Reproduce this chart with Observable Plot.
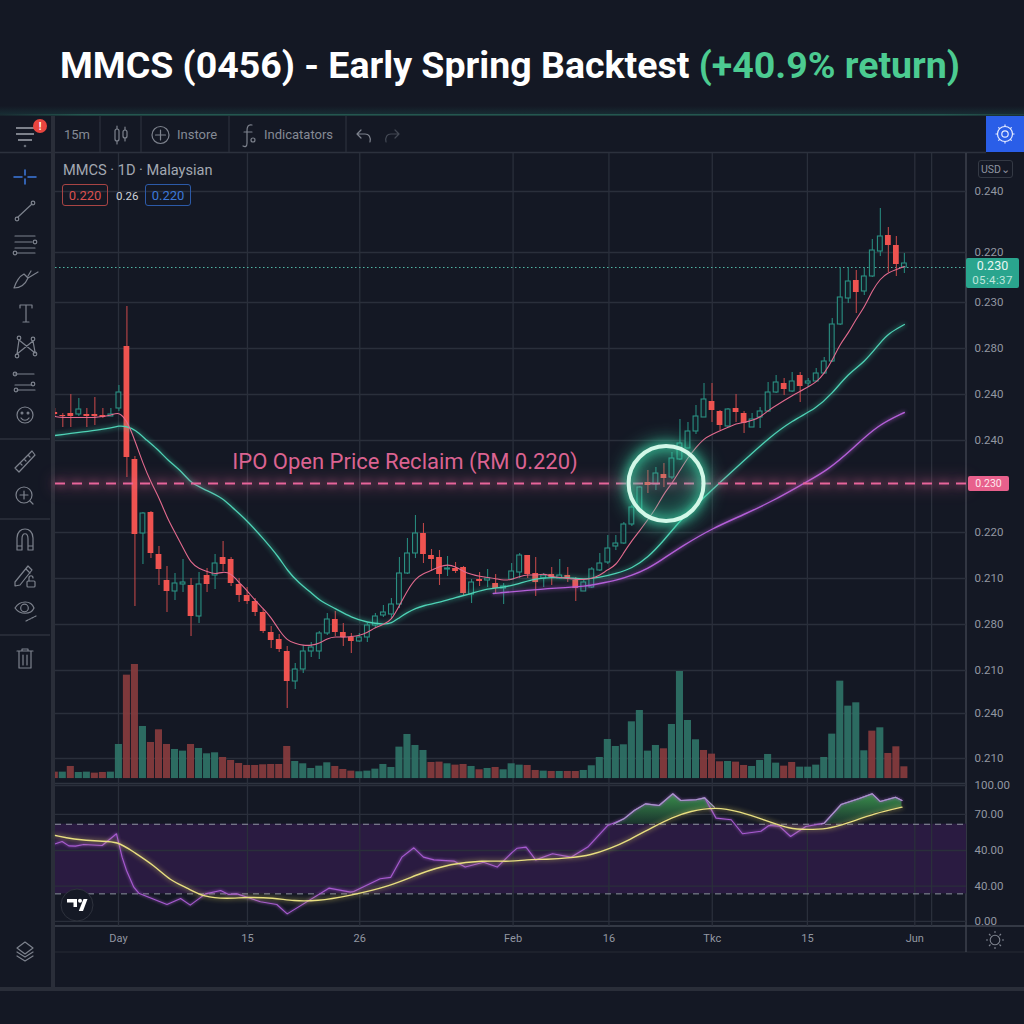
<!DOCTYPE html>
<html><head><meta charset="utf-8">
<script src="https://cdn.jsdelivr.net/npm/d3@7"></script>
<script src="https://cdn.jsdelivr.net/npm/@observablehq/plot@0.6"></script>
<style>
html,body{margin:0;padding:0;background:#141824;}
#page{position:relative;width:1024px;height:1024px;overflow:hidden;background:#141824;font-family:Roboto,sans-serif;}
#page>svg,#page>div{position:absolute;}
.tag{display:flex;align-items:center;justify-content:center;box-sizing:border-box;}
</style></head><body><div id="page"></div>
<script>
// ---------- values (price points; tick labels below are as printed) ----------
const high =[392,387,406,402,392,403,392,392,415,494,344,288,289,254,234,227,241,222,228,232,246,259,243,222,213,202,191,174,166,154,137,155,158,169,187,189,177,167,167,177,187,195,202,243,262,285,277,251,250,244,238,234,221,228,231,226,217,237,247,245,243,227,233,241,233,223,220,233,247,265,265,278,295,314,330,333,337,348,381,378,395,417,417,390,392,406,389,387,393,418,425,422,428,428,422,432,443,482,533,533,530,533,561,592,573,564,547];
const low  =[384,373,373,384,373,375,382,384,389,323,194,236,242,215,188,200,208,164,177,208,211,229,214,198,196,184,167,152,148,92,111,127,143,141,165,164,154,147,158,158,172,183,182,192,226,242,237,229,215,224,227,205,197,214,213,207,196,220,222,222,204,213,215,221,218,199,209,212,229,236,250,256,274,288,307,310,313,321,340,352,366,383,378,370,373,378,367,373,372,388,407,405,408,398,413,418,426,438,475,497,487,505,523,544,528,524,527];
const open =[388,385,387,386,386,386,385,384,392,454,341,267,288,246,220,209,216,215,184,225,225,243,241,216,205,199,188,168,161,149,119,131,149,149,167,181,168,163,159,163,175,185,186,196,227,247,267,245,243,231,232,233,206,221,220,217,212,221,228,245,227,222,226,222,225,220,209,213,230,238,254,257,276,290,318,316,326,323,341,352,369,383,399,389,374,392,387,373,383,389,408,417,409,425,417,419,427,439,476,502,520,509,524,549,565,555,533];
const close=[386,384,384,391,384,384,383,386,408,343,266,287,247,231,209,217,218,184,216,216,237,236,217,205,199,188,169,160,151,119,131,149,153,167,181,168,163,159,163,175,184,188,196,227,247,267,246,241,226,232,229,207,218,219,222,212,214,229,245,226,218,225,223,225,222,212,218,231,237,252,257,276,293,313,315,327,322,342,357,369,384,401,390,375,391,388,377,381,389,408,418,411,419,414,419,427,439,476,503,519,508,524,550,564,555,536,537];
const volume=[20,20,37,19,20,17,19,20,103,311,343,157,109,147,103,88,83,103,91,75,78,64,55,46,40,40,42,43,43,97,52,45,31,38,48,37,28,23,21,23,29,43,34,95,133,100,85,49,50,45,41,43,37,27,31,34,27,45,41,40,25,23,22,22,22,22,25,39,64,118,97,102,171,205,83,100,90,163,322,175,117,85,74,51,52,50,40,37,55,73,47,38,49,35,35,41,64,134,293,218,228,84,143,153,76,96,36];
const volumeSide="rtrttrrttrrtrrrttrttt"+"rrrrrrrrr"+"ttttt"+"rrr"+"ttttttt"+"ttrrtrrtrtrtttr"+"rtrtrrttttttttttrt"+"ttt"+"rrrtrrttttrrtttttttttrtrr";
const fastEma=[384,383,383,383,383,383,384,385,389,380,360,337,318,303,283,268,253,237,232,229,226,229,227,218,210,200,192,183,170,160,157,155,155,157,162,164,163,164,165,168,173,176,180,195,210,222,227,230,234,236,234,229,226,224,223,222,220,221,224,226,225,227,224,223,222,221,221,222,225,231,235,248,260,270,281,292,307,317,330,343,353,362,366,370,373,377,378,380,383,390,395,400,405,409,414,418,427,440,457,467,482,493,510,522,528,531,534];
const midEmaBar=[0,7,8,9,10,11.5,13,14,16,17,19,21,22,24,26,28,29,30.5,32,33,35,37,39,41,42,43,44,45,46,48,50,52,54,56,58,60,62,64,66,68,70,72,74,76,78,81,83,86,89,92,95,97,99,101,103,104,106];
const midEma   =[365,372,375,374,371,360,350,341,328,317,310,302,294,280,262,243,230,217,208,200,192,183,178,176,177,183,188,192,195,198,203,207,212,213,217,222,223,223,221,223,227,232,243,260,280,303,318,340,362,380,392,407,427,438,458,467,476];
const slowEmaBar=[54.7,60,64,66,68,70,72,74,75.6,78.4,82,86,89.7,93.4,96.4,99.7,102.6,106];
const slowEma   =[207,211,213,214,217,220,225,232,240,255,272,286,300,317,330,353,375,388];
const rsiBar=[0.09,0.92,1.75,2.58,3.62,5.91,7.7,8.4,8.95,9.86,10.48,14,15.7,16.9,18.8,20.7,21.7,22.75,25.66,27.7,29,34.2,36.9,37.3,40.6,41.9,43.3,44.8,46,47.3,49.8,51.2,53.5,55.2,57.1,57.7,58.8,60,62.1,64.4,66.5,69,71,72.3,73.7,75.4,77.1,78.1,80,81.1,82.5,84.4,85.8,88.1,89.1,90.4,91.8,93.7,96,98.1,100.3,102,103,104.9,105.7];
const rsi   =[57.1,58.8,55.6,55.4,56.6,55.9,64.5,47.3,37.5,25.2,20.8,12.5,16.9,12,20.3,22.8,19.9,20.3,14.5,12.5,5.6,24.5,21.6,22.1,31.4,32.4,47.3,54.2,47.3,45.3,44.4,40,43.6,40,51,53.9,54.7,45.3,49.8,47.3,54.7,70.6,75.5,81.6,86.5,85.3,93.9,89,89.5,90.9,76,74.8,64.5,66.4,70.6,70.1,62.5,69.9,72.3,86,90.2,93.9,88.2,91.4,89];
const signalBar=[0.09,2.2,5.7,7.8,9.86,12.4,14.4,16.5,18.6,21.5,24,27.3,29.8,32.7,36.5,41.9,45.7,49.4,53.2,57.1,58.8,61.3,64.4,66.9,69.2,71.7,74.6,77.1,79.2,82.5,85.4,88.7,91.8,93.7,96.4,98.7,102.4,105.7];
const signal   =[63.2,60.5,58.8,59.1,51,41.2,30.1,24.8,17.9,16.7,17.9,17.4,15,15,18.6,26,35.8,42.4,44.9,43.9,45.6,45.6,46.8,48.8,53.4,60,69.4,76.7,81.1,84.3,80.9,74.3,67.9,67.6,67.9,71.8,79.7,84.1];
const overbought=[[69.7,71.5,71.5],[71,71.5,75.5],[72.3,71.5,81.6],[73.7,71.5,86.5],[75.4,72,85.3],[77.1,76.7,93.9],[78.1,78.7,89],[80,81.6,89.5],[81.1,83,90.9],[82.3,84,84]];
const overbought2=[[95.6,71.5,71.5],[96,71.5,72.3],[98.1,72,86],[100.3,75,90.2],[102,79,93.9],[103,80.5,88.2],[104.9,83,91.4],[105.7,84,89]];
const priceTicks =[609,548,498,452,406,360,268,222,176,130,87,42];
const priceLabels=["0.240","0.220","0.230","0.280","0.240","0.240","0.220","0.210","0.280","0.210","0.240","0.210"];
const rsiTicks =[100,78.7,52.2,26,0];
const rsiLabels=["100.00","70.00","40.00","40.00","0.00"];
const timeBars  =[7.95,24.04,38.05,57.18,69.14,82.03,93.9,107.3];
const timeLabels=["Day","15","26","Feb","16","Tkc","15","Jun"];
const extraGridBar=109.4;
const ipoLevel=317, lastPrice=533;
const rsiUpper=71.5, rsiLower=20.3;
const reclaim={bar:76.27,price:317};
const ipoNote={bar:43.7,price:339,text:"IPO Open Price Reclaim (RM 0.220)"};

// ---------- shared ----------
const xDomain=[0.09,113.75];
const grid="#2a2f3b", axisText="#9297a2", red="#ef5350";
const baseStyle={position:"absolute",left:"0",top:"0",background:"transparent",maxWidth:"none",fontFamily:"Roboto,sans-serif"};
const glow=(c,r)=>`drop-shadow(0 0 ${r}px ${c})`;
const bars=high.map((h,i)=>({i,high:h,low:low[i],open:open[i],close:close[i],vol:volume[i],side:volumeSide[i]}));
const pts=(xs,ys)=>xs.map((x,k)=>({x,y:ys[k]}));
const page=document.getElementById("page");
const add=(html)=>{const t=document.createElement("template");t.innerHTML=html.trim();page.appendChild(t.content.firstChild);};

// ---------- chrome beneath the plots ----------
const ic='stroke="#7d828d" fill="none" stroke-width="1.2" stroke-linecap="round" stroke-linejoin="round"';
add(`<svg width="1024" height="1024" style="left:0;top:0" xmlns="http://www.w3.org/2000/svg">
<defs><linearGradient id="tl" x1="0" x2="1" y1="0" y2="0"><stop offset="0" stop-color="#24574f" stop-opacity=".3"/><stop offset=".08" stop-color="#24574f"/><stop offset=".92" stop-color="#24574f"/><stop offset="1" stop-color="#24574f" stop-opacity=".6"/></linearGradient>
<linearGradient id="tg" x1="0" x2="0" y1="0" y2="1"><stop offset="0" stop-color="#2a8f80" stop-opacity="0"/><stop offset="1" stop-color="#2a8f80" stop-opacity=".16"/></linearGradient></defs>
<rect x="0" y="106" width="1024" height="8" fill="url(#tg)"/>
<rect x="0" y="114" width="1024" height="1.6" fill="url(#tl)"/>
<rect x="986" y="116" width="38" height="36" fill="#2a5ee8"/>
<g stroke="#2c313d" fill="none"><path d="M100 116V152M141 116V152M229 116V152M346 116V152" stroke-width="1.2"/><path d="M0 152.5H986" stroke-width="1.5"/>
<path d="M0 439H50M0 519H50M0 635H50" stroke-width="1.3"/></g>
<rect x="51" y="116" width="4" height="872" fill="#2a2e39"/>
<rect x="0" y="987" width="1024" height="4" fill="#2a2e39"/>
<path d="M55 952H1024" stroke="#262a35" stroke-width="1.2"/>
<path d="M966 153V952" stroke="#474c58" stroke-width="1.2"/>
<path d="M55 926H1024" stroke="#3f4450" stroke-width="1.5"/>
<path d="M55 783.5H966" stroke="#2f3440" stroke-width="1.5"/>
<path d="M16 128H34M16 134H34M18 140H32" stroke="#a0a4ad" stroke-width="1.6"/><circle cx="25" cy="146" r="1.3" fill="#666b76"/>
<path d="M357 134L361 130M357 134L361 138M357 134H365C369 134 371 137 370 142" ${ic}/>
<path d="M399 134L395 130M399 134L395 138M399 134H391C387 134 385 137 386 142" ${ic} opacity=".45"/>
<g ${ic}><rect x="115" y="129" width="4" height="12" rx="2"/><path d="M117 126V129M117 141V144"/><rect x="123" y="130" width="4" height="8" rx="2"/><path d="M125 127V130M125 138V141"/>
<circle cx="160.500" cy="135" r="8.500"/><path d="M160.500 130V140M155.500 135H165.500"/>
<path d="M252 125C248 124 247 127 247 131V143C247 147 245 147 243 146M244 132H252"/><circle cx="253" cy="140" r="2" />
<path d="M25 170V175M25 179V184M14 177H22M28 177H36" stroke="#3d7ae0" stroke-width="1.5"/>
<path d="M18 217L32 204"/><circle cx="17" cy="219" r="1.800"/><circle cx="33" cy="203" r="1.800"/>
<path d="M15 236H35M15 242H32M15 248H35M17 253H35"/><circle cx="35" cy="242" r="1.800"/><circle cx="15" cy="253" r="1.800"/>
<path d="M14 288C20 288 25 285 28 278L24 274C20 276 16 282 14 288ZM28 278L38 272M28 276L31 271"/>
<path d="M20 305H32M26 305V322M23 322H29M20 305V308M32 305V308"/>
<circle cx="19" cy="338" r="1.800"/><circle cx="33" cy="339" r="1.800"/><circle cx="17" cy="356" r="1.800"/><circle cx="35" cy="354" r="1.800"/><path d="M19 340L17 354M19 340L35 353M33 341L17 354M33 341L35 352"/>
<path d="M15 374H34M15 385H32M17 390H35"/><circle cx="15" cy="374" r="1.800"/><circle cx="33" cy="384" r="1.800"/><circle cx="16" cy="390" r="1.800"/>
<circle cx="25" cy="415" r="8"/><circle cx="22" cy="413" r=".9"/><circle cx="28" cy="413" r=".9"/><path d="M21 418C23 421 27 421 29 418"/>
<path d="M15 468L32 451L35 455L19 472ZM20 463L22 465M24 459L26 461M28 455L30 457"/>
<circle cx="24" cy="495" r="8"/><path d="M30 501L33 504M24 491V499M20 495H28"/>
<path d="M17 550V538C17 526 33 526 33 538V550H28V539C28 532 22 532 22 539V550ZM17 546H22M28 546H33"/>
<path d="M15 582L28 566L32 570L20 585L15 586ZM26 569L30 573"/><rect x="27" y="581" width="8" height="6" rx="1"/><path d="M29 581V578C29 575 33 575 33 578"/>
<path d="M15 608C20 600 31 600 34 608C31 615 20 615 15 608Z"/><circle cx="24.500" cy="608" r="3.800"/><path d="M26 621L36 616" stroke-dasharray="2 1.200"/>
<path d="M17 651H33M22 651V649H28V651M19 651V668H31V651M23 655V665M27 655V665"/>
<path d="M25 942L33 948L25 954L17 948ZM17 952L25 957L33 952M17 956L25 961L33 956"/></g>
<g stroke="#e6ecff" fill="none" stroke-width="1.2"><circle cx="1005" cy="134" r="3.200"/><circle cx="1005" cy="134" r="7.500"/><path d="M1005 124.500V126.500M1005 141.500V143.500M995.500 134H997.500M1012.500 134H1014.500M998.300 127.300L999.700 128.700M1010.300 139.300L1011.700 140.700M1011.700 127.300L1010.300 128.700M999.700 139.300L998.300 140.700"/></g>
<g stroke="#7d828d" fill="none" stroke-width="1.1"><circle cx="995" cy="940" r="4.800"/><path d="M995 931V933M995 947V949M986 940H988M1002 940H1004M989 934L990.500 935.500M999.500 944.500L1001 946M1001 934L999.500 935.500M990.500 944.500L989 946"/></g>
</svg>`);

// ---------- price pane ----------
page.appendChild(Plot.plot({
  width:1024,height:1024,marginLeft:55,marginRight:58,marginTop:153,marginBottom:239,
  style:baseStyle,
  x:{type:"linear",domain:xDomain,axis:null},
  y:{type:"linear",domain:[15,647],axis:null},
  marks:[
    Plot.ruleY(priceTicks,{stroke:grid,strokeWidth:1.5}),
    Plot.ruleX([...timeBars,extraGridBar],{stroke:grid,strokeWidth:1.3}),
    Plot.axisY({anchor:"right",ticks:priceTicks,tickFormat:d=>priceLabels[priceTicks.indexOf(d)],tickSize:0,tickPadding:8,color:axisText,fontSize:11.5,label:null}),
    Plot.ruleY([lastPrice],{stroke:"#4fb5a3",strokeWidth:1,strokeDasharray:"1.500 2.500"}),
    Plot.ruleX(bars,{x:"i",y1:"low",y2:"high",stroke:d=>d.close>=d.open?"#26877b":"#bd4648",strokeWidth:1.1,clip:true}),
    Plot.rect(bars.filter(d=>d.close>=d.open),{x1:d=>d.i-.3,x2:d=>d.i+.3,y1:"open",y2:"close",fill:"#14202a",stroke:"#2a9082",strokeWidth:1.1,clip:true}),
    Plot.rect(bars.filter(d=>d.close<d.open),{x1:d=>d.i-.36,x2:d=>d.i+.36,y1:"open",y2:"close",fill:red,clip:true}),
    Plot.line(pts(slowEmaBar,slowEma),{x:"x",y:"y",stroke:"#b45fd8",strokeWidth:1.4,curve:"basis",imageFilter:glow("#b863dd",2)}),
    Plot.line(pts(midEmaBar,midEma),{x:"x",y:"y",stroke:"#4fd2b6",strokeWidth:1.3,curve:"basis",imageFilter:glow("#3fd8b0",2.5),clip:true}),
    Plot.line(fastEma.map((y,x)=>({x,y})),{x:"x",y:"y",stroke:"#e36a8e",strokeWidth:1.1,curve:"basis",clip:true}),
    Plot.ruleY([ipoLevel],{stroke:"#e8659a",strokeWidth:2,strokeDasharray:"10 7",imageFilter:`${glow("#e8659a",4)} ${glow("#e8659a",8)}`}),
    Plot.text([ipoNote],{x:"bar",y:"price",text:"text",fill:"#db6391",fontSize:22,fontFamily:"Roboto,sans-serif"}),
    Plot.dot([reclaim],{x:"bar",y:"price",r:37.5,stroke:"#d2f8e8",strokeWidth:4,fill:"#3fe0ae",fillOpacity:.04,imageFilter:`${glow("#3fe0ae",5)} ${glow("#3fe0ae",9)}`})
  ]
}));

// ---------- volume pane (overlaid on the lower price pane) ----------
page.appendChild(Plot.plot({
  width:1024,height:1024,marginLeft:55,marginRight:58,marginTop:660,marginBottom:245.7,
  style:baseStyle,
  x:{type:"linear",domain:xDomain,axis:null},
  y:{type:"linear",domain:[0,355],axis:null},
  marks:[
    Plot.rectY(bars,{x1:d=>d.i-.44,x2:d=>d.i+.44,y:"vol",fill:d=>d.side==="t"?"#2f7367":"#873c3e",fillOpacity:.92,clip:true})
  ]
}));

// ---------- RSI pane ----------
const rsiDefs=()=>{const g=d3.create("svg:defs");const lg=g.append("linearGradient").attr("id","rsiGreen").attr("x1",0).attr("x2",0).attr("y1",0).attr("y2",1);
  lg.append("stop").attr("offset",0).attr("stop-color","#3a8f4c");lg.append("stop").attr("offset",1).attr("stop-color","#1a342e");return g.node();};
page.appendChild(Plot.plot({
  width:1024,height:1024,marginLeft:55,marginRight:58,marginTop:785,marginBottom:98,
  style:baseStyle,
  x:{type:"linear",domain:xDomain,axis:null},
  y:{type:"linear",domain:[-3.7,100],axis:null},
  marks:[
    rsiDefs,
    Plot.rect([0],{x1:xDomain[0],x2:xDomain[1],y1:rsiLower,y2:rsiUpper,fill:"#2a1b41"}),
    Plot.ruleY(rsiTicks,{stroke:grid,strokeWidth:1.3}),
    Plot.ruleX([...timeBars,extraGridBar],{y1:-3.7,y2:100,stroke:grid,strokeWidth:1.3}),
    Plot.axisY({anchor:"right",ticks:rsiTicks,tickFormat:d=>rsiLabels[rsiTicks.indexOf(d)],tickSize:0,tickPadding:8,color:axisText,fontSize:11.5,label:null}),
    Plot.axisX({anchor:"bottom",ticks:timeBars,tickFormat:d=>timeLabels[timeBars.indexOf(d)],tickSize:0,tickPadding:8,color:axisText,fontSize:11,label:null}),
    Plot.ruleY([rsiUpper,rsiLower],{stroke:"#8f94a0",strokeWidth:1,strokeDasharray:"6 5"}),
    Plot.areaY(overbought,{x:d=>d[0],y1:d=>d[1],y2:d=>d[2],fill:"url(#rsiGreen)",curve:"linear"}),
    Plot.areaY(overbought2,{x:d=>d[0],y1:d=>d[1],y2:d=>d[2],fill:"url(#rsiGreen)",curve:"linear"}),
    Plot.line(pts(rsiBar,rsi),{x:"x",y:"y",stroke:"#a75bd0",strokeWidth:1.1,imageFilter:glow("#a75bd0",1.5)}),
    Plot.line(overbought,{x:d=>d[0],y:d=>d[2],stroke:"#a897c8",strokeWidth:1.1}),
    Plot.line(overbought2,{x:d=>d[0],y:d=>d[2],stroke:"#a897c8",strokeWidth:1.1}),
    Plot.line(pts(signalBar,signal),{x:"x",y:"y",stroke:"#e8df80",strokeWidth:1.4,curve:"basis",imageFilter:glow("#d8c860",2.5)})
  ]
}));

// ---------- chrome above the plots ----------
add(`<div style="left:-2px;top:39px;width:1024px;text-align:center;font-size:37.500px;font-weight:700;line-height:52px;color:#fff;white-space:nowrap;">MMCS (0456) - Early Spring Backtest <span style="color:#4ccb91">(+40.9% return)</span></div>`);
const txt=(x,cy,s,size,col)=>add(`<div style="left:${x}px;top:${cy-10}px;height:20px;line-height:20px;font-size:${size}px;color:${col};white-space:nowrap;">${s}</div>`);
txt(64,135,"15m",13,"#858a95");
txt(177,135,"Instore",13,"#858a95");
txt(264,135,"Indicatators",13,"#858a95");
txt(63,170,"MMCS · 1D · Malaysian",14.6,"#a3a8b2");
txt(116,196,"0.26",11.5,"#cfd2d8");
add(`<div class="tag" style="left:62px;top:184px;width:46px;height:22px;border:1px solid #a84444;border-radius:3px;color:#d9504f;font-size:13px;">0.220</div>`);
add(`<div class="tag" style="left:145px;top:184px;width:46px;height:22px;border:1px solid #2c5aa8;border-radius:3px;color:#3c78d8;font-size:13px;">0.220</div>`);
add(`<div class="tag" style="left:978px;top:160px;width:35px;height:18px;border:1px solid #343944;border-radius:3px;color:#8f94a0;font-size:10.500px;">USD⌄</div>`);
add(`<div class="tag" style="left:966px;top:258px;width:53px;height:30px;background:#2aa58e;border-radius:2px;flex-direction:column;color:#e8f6f2;font-size:12.500px;line-height:14px;"><span>0.230</span><span style="color:#bfe6dc;font-size:11.500px;letter-spacing:.4px">05:4:37</span></div>`);
add(`<div class="tag" style="left:968px;top:476px;width:41px;height:15px;background:#e8608c;border-radius:2px;color:#fde8ef;font-size:10.500px;">0.230</div>`);
add(`<div class="tag" style="left:33px;top:119px;width:14px;height:14px;background:#e8453f;border-radius:7px;color:#fff;font-size:10px;font-weight:700;">!</div>`);
add(`<svg width="40" height="40" style="left:57px;top:885px" xmlns="http://www.w3.org/2000/svg"><circle cx="20" cy="20" r="16" fill="#151925" stroke="#2e323d"/><path d="M10 14H20V22H16.500V17.500H10Z" fill="#fff"/><circle cx="23" cy="15.800" r="2" fill="#fff"/><path d="M26.500 14H30.500L26 26H21.800Z" fill="#fff"/></svg>`);
</script></body></html>
